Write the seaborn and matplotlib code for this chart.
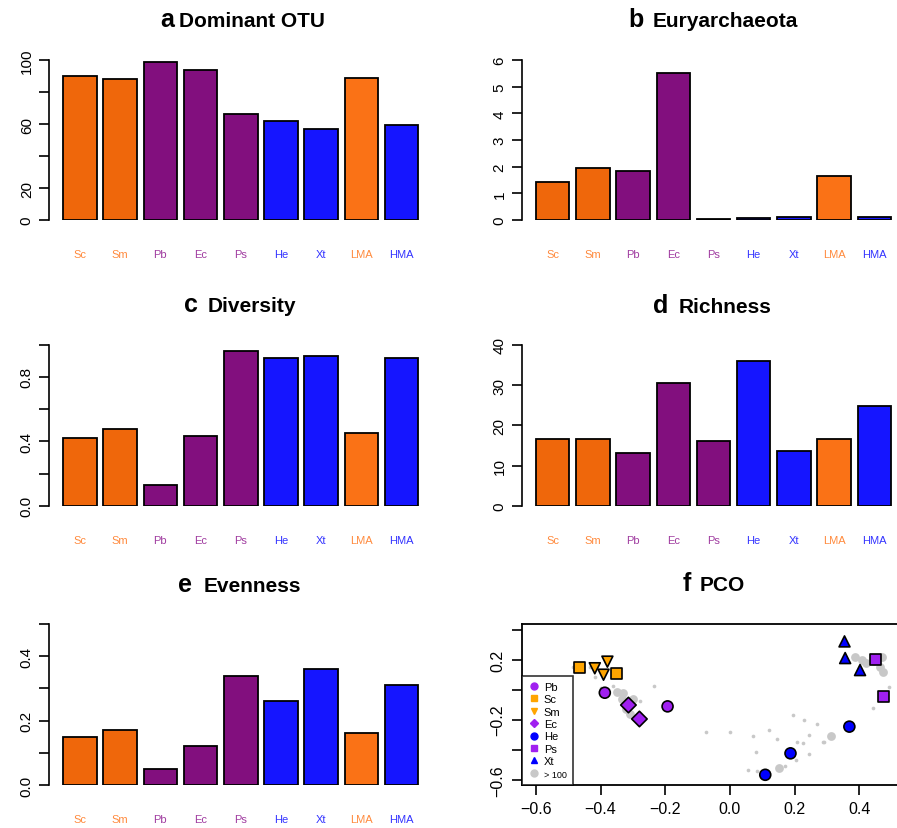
import numpy as np
import pandas as pd
import matplotlib
matplotlib.use("Agg")
import matplotlib.pyplot as plt
from matplotlib.lines import Line2D
import seaborn as sns

sns.set_style("white")
plt.rcParams['font.family'] = ['Liberation Sans', 'DejaVu Sans']
plt.rcParams['text.color'] = 'black'
plt.rcParams['axes.labelcolor'] = 'black'
plt.rcParams['xtick.color'] = 'black'
plt.rcParams['ytick.color'] = 'black'

# ---------------- data ----------------
categories = ["Sc", "Sm", "Pb", "Ec", "Ps", "He", "Xt", "LMA", "HMA"]
dominant_otu = [90.2, 88.1, 98.5, 93.7, 66.0, 61.9, 56.9, 89.0, 59.4]
euryarchaeota = [1.41, 1.94, 1.84, 5.50, 0.03, 0.08, 0.12, 1.66, 0.10]
diversity = [0.42, 0.478, 0.13, 0.43, 0.96, 0.919, 0.93, 0.451, 0.919]
richness = [16.6, 16.7, 13.1, 30.5, 16.1, 36.1, 13.7, 16.7, 24.9]
evenness = [0.150, 0.171, 0.051, 0.121, 0.340, 0.261, 0.361, 0.161, 0.310]

bar_colors = {"Sc": "#EF670B", "Sm": "#EF670B", "Pb": "#820F7E", "Ec": "#820F7E",
              "Ps": "#820F7E", "He": "#1515FF", "Xt": "#1515FF", "LMA": "#FA7216",
              "HMA": "#1515FF"}
label_colors = {"Sc": "#FF8A3D", "Sm": "#FF8A3D", "Pb": "#A03CA0", "Ec": "#A03CA0",
                "Ps": "#A03CA0", "He": "#3333FF", "Xt": "#3333FF", "LMA": "#FF8A3D",
                "HMA": "#3333FF"}

# PCO: coloured sample points
pco_group = ["Sc", "Sc", "Sm", "Sm", "Sm", "Pb", "Pb", "Ec", "Ec",
             "He", "He", "He", "Ps", "Ps", "Xt", "Xt", "Xt"]
pco_x = [-0.464, -0.350, -0.418, -0.379, -0.391, -0.387, -0.193, -0.314, -0.280,
         0.369, 0.187, 0.109, 0.451, 0.474, 0.354, 0.356, 0.402]
pco_y = [0.145, 0.109, 0.143, 0.187, 0.100, -0.020, -0.111, -0.102, -0.195,
         -0.246, -0.424, -0.567, 0.200, -0.044, 0.322, 0.211, 0.131]

# PCO: grey OTU points (small and large)
gray_small_x = [-0.485, -0.433, -0.418, -0.400, -0.361, -0.234, -0.278, -0.074, 0.000,
                0.072, 0.122, 0.146, 0.196, 0.228, 0.268, 0.243, 0.206, 0.225, 0.291,
                0.079, 0.204, 0.245, 0.056, 0.084, 0.170, 0.490, 0.441, 0.289, 0.356, 0.380]
gray_small_y = [0.153, 0.153, 0.083, 0.009, 0.027, 0.023, -0.075, -0.280, -0.284,
                -0.311, -0.267, -0.331, -0.171, -0.200, -0.231, -0.302, -0.351, -0.357, -0.351,
                -0.413, -0.467, -0.429, -0.537, -0.542, -0.511, 0.020, -0.124, -0.351, -0.249, -0.250]
gray_large_x = [-0.350, -0.330, -0.335, -0.301, -0.309, -0.320, 0.151, 0.313,
                0.387, 0.407, 0.469, 0.464, 0.474, 0.421, 0.445]
gray_large_y = [-0.013, -0.022, -0.062, -0.062, -0.162, -0.129, -0.522, -0.311,
                0.216, 0.198, 0.216, 0.149, 0.116, 0.178, 0.191]

pco_colors = {"Pb": "#A020F0", "Sc": "#FFA500", "Sm": "#FFA500", "Ec": "#A020F0",
              "He": "#0000FF", "Ps": "#A020F0", "Xt": "#0000FF"}
pco_markers = {"Pb": "o", "Sc": "s", "Sm": "v", "Ec": "D", "He": "o", "Ps": "s", "Xt": "^"}

# ---------------- figure ----------------
W, H = 897, 829
fig = plt.figure(figsize=(W / 100, H / 100), dpi=100)

PX_PER_S = 33.49 * 1.2


def fx(px):
    return px / W


def fy(py):
    return 1 - py / H


def bar_panel(values, x_axis_px, y0_px, y1_px, v1, ytop, ticks, ticklabels):
    ppu = (y0_px - y1_px) / v1
    left, right = -0.77, 8.77
    w_px = (right - left) * PX_PER_S
    h_px = ytop * ppu
    ax = fig.add_axes([fx(x_axis_px), fy(y0_px), w_px / W, h_px / H])
    df = pd.DataFrame({"cat": categories, "val": values})
    sns.barplot(data=df, x="cat", y="val", hue="cat", palette=bar_colors,
                order=categories, hue_order=categories, width=1 / 1.2,
                edgecolor="black", linewidth=1.3, legend=False, ax=ax, saturation=1)
    ax.set_xlim(left, right)
    ax.set_ylim(0, ytop)
    for s in ["top", "right", "bottom"]:
        ax.spines[s].set_visible(False)
    ax.spines["left"].set_bounds(ticks[0], ticks[-1])
    ax.spines["left"].set_linewidth(1.2)
    ax.spines["left"].set_color("black")
    ax.set_yticks(ticks)
    ax.set_yticklabels(ticklabels, rotation=90, va="center", fontsize=11)
    ax.tick_params(axis="y", direction="out", length=7, width=1.2, pad=4, left=True)
    ax.set_xticks(range(len(categories)))
    ax.set_xticklabels(categories, fontsize=8)
    ax.tick_params(axis="x", length=0, pad=21)
    for lab, c in zip(ax.get_xticklabels(), categories):
        lab.set_color(label_colors[c])
    ax.set_xlabel("")
    ax.set_ylabel("")
    ax.patch.set_alpha(0)
    return ax


bar_panel(dominant_otu, 49.1, 221, 61, 100, 103, [0, 20, 40, 60, 80, 100],
          ["0", "20", "", "60", "", "100"])
bar_panel(euryarchaeota, 521.8, 221, 61, 6, 6.2, [0, 1, 2, 3, 4, 5, 6],
          ["0", "1", "2", "3", "4", "5", "6"])
bar_panel(diversity, 49.1, 506.7, 345.7, 1.0, 1.02, [0, 0.2, 0.4, 0.6, 0.8, 1.0],
          ["0.0", "", "0.4", "", "0.8", ""])
bar_panel(richness, 521.8, 506.7, 346, 40, 41, [0, 10, 20, 30, 40],
          ["0", "10", "20", "30", "40"])
bar_panel(evenness, 49.1, 786, 625, 0.5, 0.51, [0, 0.1, 0.2, 0.3, 0.4, 0.5],
          ["0.0", "", "0.2", "", "0.4", ""])

# ---------------- PCO panel ----------------
xl, xr = -0.643, 0.541
yb, yt = -0.633, 0.44
axf = fig.add_axes([fx(522), fy(785.7), (905 - 522) / W, (785.7 - 624.7) / H])
sns.scatterplot(x=gray_small_x, y=gray_small_y, color="#C8C8C8", s=7, linewidth=0,
                ax=axf, legend=False)
sns.scatterplot(x=gray_large_x, y=gray_large_y, color="#C8C8C8", s=40, linewidth=0,
                ax=axf, legend=False)
dfp = pd.DataFrame({"grp": pco_group, "x": pco_x, "y": pco_y})
sns.scatterplot(data=dfp, x="x", y="y", hue="grp", style="grp", palette=pco_colors,
                markers=pco_markers, s=62, edgecolor="black", linewidth=1.2,
                ax=axf, legend=False, zorder=3)
axf.set_xlim(xl, xr)
axf.set_ylim(yb, yt)
for s in axf.spines.values():
    s.set_color("black")
    s.set_linewidth(1.3)
axf.set_xticks([-0.6, -0.4, -0.2, 0.0, 0.2, 0.4])
axf.set_xticklabels(["\u22120.6", "\u22120.4", "\u22120.2", "0.0", "0.2", "0.4"], fontsize=11.5)
axf.set_yticks([0.4, 0.2, 0.0, -0.2, -0.4, -0.6])
axf.set_yticklabels(["", "0.2", "", "\u22120.2", "", "\u22120.6"], rotation=90,
                    va="center", fontsize=11.5)
axf.tick_params(axis="both", direction="out", length=7, width=1.2, bottom=True, left=True)
axf.tick_params(axis="x", pad=5)
axf.tick_params(axis="y", pad=5)
axf.set_xlabel("")
axf.set_ylabel("")

leg_items = [("Pb", "o", "#A020F0"), ("Sc", "s", "#FFA500"), ("Sm", "v", "#FFA500"),
             ("Ec", "D", "#A020F0"), ("He", "o", "#0000FF"), ("Ps", "s", "#A020F0"),
             ("Xt", "^", "#0000FF"), ("> 100", "o", "#C8C8C8")]
handles = [Line2D([], [], linestyle="none", marker=m, color=c,
                  markersize=5 if m != "D" else 4.2, label=l) for l, m, c in leg_items]
leg = axf.legend(handles=handles, loc="lower left", bbox_to_anchor=(0, 0),
                 frameon=True, fancybox=False, fontsize=8, labelspacing=0.22,
                 handletextpad=0.4, handlelength=1.0, borderpad=0.55, borderaxespad=0)
leg.get_frame().set_edgecolor("black")
leg.get_frame().set_linewidth(1.2)
leg.get_texts()[-1].set_fontsize(6.5)

# ---------------- titles ----------------
def title(letter_right, text_left, baseline, letter, text):
    fig.text(fx(letter_right), fy(baseline), letter, ha="right", va="baseline",
             fontsize=18, fontweight="bold")
    fig.text(fx(text_left), fy(baseline), text, ha="left", va="baseline",
             fontsize=15, fontweight="bold")


title(174, 179, 26.7, "a", "Dominant OTU")
title(644, 653, 26.7, "b", "Euryarchaeota")
title(198, 208, 312, "c", "Diversity")
title(668, 679, 313, "d", "Richness")
title(192, 204, 592, "e", "Evenness")
title(691, 700, 591, "f", "PCO")

fig.savefig("out.png", dpi=100)
